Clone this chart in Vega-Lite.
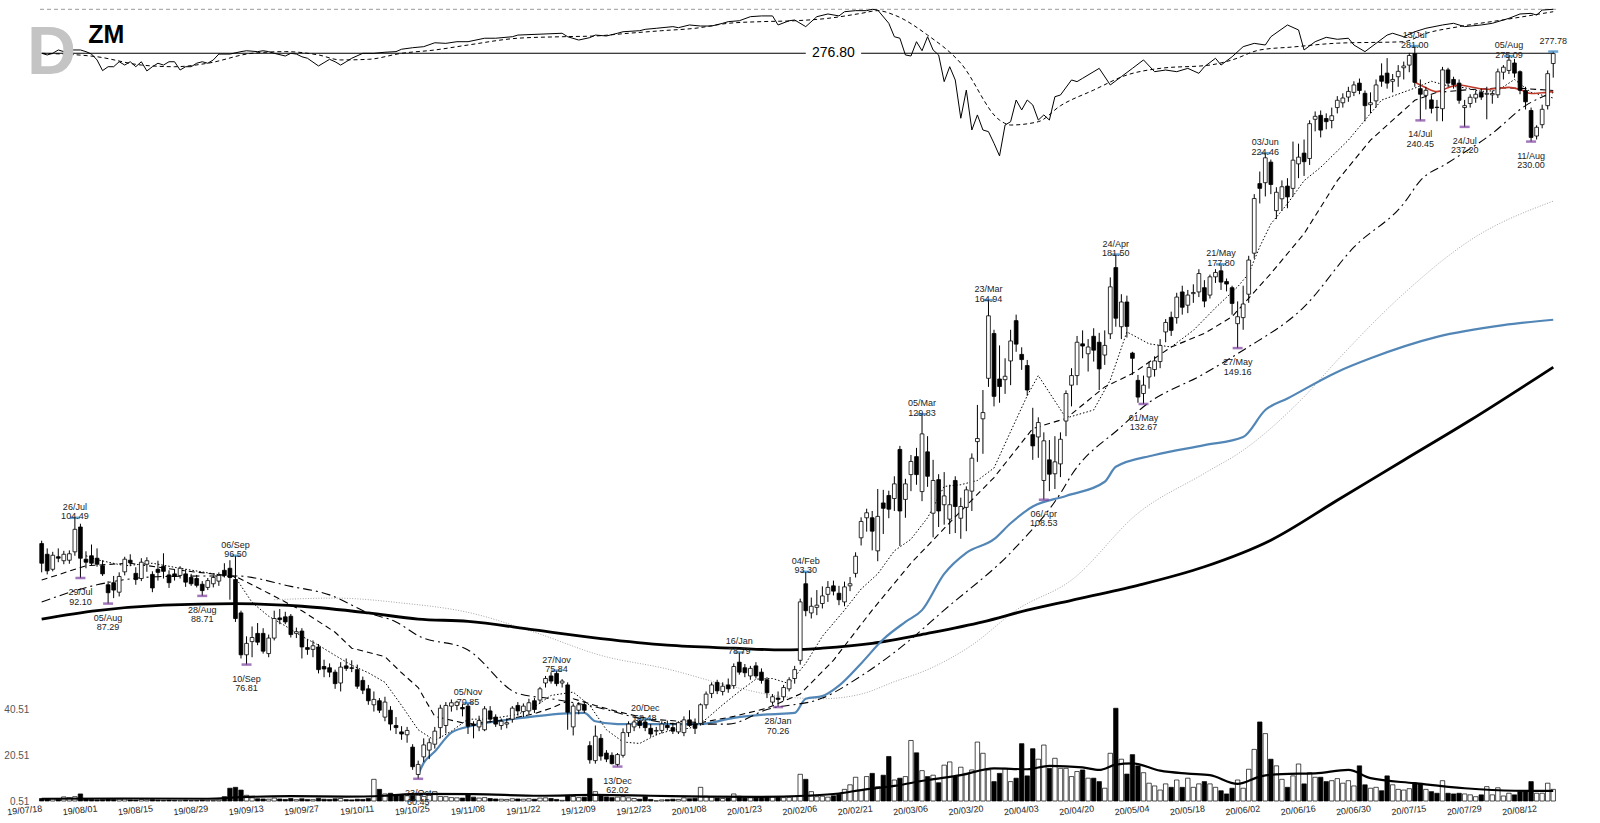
{
  "$schema": "https://vega.github.io/schema/vega-lite/v6.json",
  "width": 1517.1,
  "height": 801,
  "autosize": {"type": "none"},
  "padding": {"left": 38.9, "top": 0, "right": 44, "bottom": 22},
  "background": "white",
  "config": {
    "view": {"stroke": null},
    "font": "Liberation Sans",
    "axisX": {
      "labelExpr": "indexof(['19/07/18','19/08/01','19/08/15','19/08/29','19/09/13','19/09/27','19/10/11','19/10/25','19/11/08','19/11/22','19/12/09','19/12/23','20/01/08','20/01/23','20/02/06','20/02/21','20/03/06','20/03/20','20/04/03','20/04/20','20/05/04','20/05/18','20/06/02','20/06/16','20/06/30','20/07/15','20/07/29','20/08/12'], datum.value) >= 0 ? datum.value : ''",
      "ticks": false, "domain": false, "grid": false,
      "labelAngle": -6, "labelAlign": "right", "labelBaseline": "top",
      "labelFontSize": 9, "labelColor": "#222222", "labelPadding": 3, "labelOverlap": false,
      "titleOpacity": 0
    }
  },
  "datasets": {
    "px": [
      {"d":"19/07/18","o":99.0,"h":99.6,"l":93.2,"c":95.0,"v":1.6},
      {"d":"19/07/19","o":96.8,"h":98.0,"l":92.8,"c":93.5,"v":1.4},
      {"d":"19/07/22","o":93.8,"h":97.3,"l":93.4,"c":96.6,"v":1.5},
      {"d":"19/07/23","o":96.3,"h":98.0,"l":95.2,"c":96.0,"v":1.2},
      {"d":"19/07/24","o":95.5,"h":97.5,"l":94.8,"c":96.8,"v":2.3},
      {"d":"19/07/25","o":95.6,"h":97.6,"l":94.9,"c":96.9,"v":2.0},
      {"d":"19/07/26","o":97.3,"h":104.49,"l":96.5,"c":102.0,"v":2.4},
      {"d":"19/07/29","o":102.5,"h":103.2,"l":92.1,"c":96.0,"v":3.6},
      {"d":"19/07/30","o":95.8,"h":97.4,"l":94.0,"c":95.2,"v":1.4},
      {"d":"19/07/31","o":96.5,"h":98.8,"l":94.6,"c":95.0,"v":1.2},
      {"d":"19/08/01","o":96.0,"h":98.0,"l":94.3,"c":94.8,"v":1.0},
      {"d":"19/08/02","o":94.5,"h":95.6,"l":92.5,"c":92.9,"v":1.1},
      {"d":"19/08/05","o":90.8,"h":91.5,"l":87.29,"c":89.3,"v":1.6},
      {"d":"19/08/06","o":91.2,"h":92.5,"l":88.3,"c":89.8,"v":1.2},
      {"d":"19/08/07","o":89.4,"h":93.2,"l":88.6,"c":92.4,"v":1.3},
      {"d":"19/08/08","o":93.3,"h":96.3,"l":92.6,"c":95.8,"v":1.4},
      {"d":"19/08/09","o":95.6,"h":96.8,"l":94.4,"c":95.1,"v":1.0},
      {"d":"19/08/12","o":93.0,"h":94.2,"l":90.8,"c":91.8,"v":0.9},
      {"d":"19/08/13","o":92.0,"h":96.0,"l":91.5,"c":95.2,"v":1.2},
      {"d":"19/08/14","o":94.8,"h":96.2,"l":93.3,"c":95.5,"v":1.0},
      {"d":"19/08/15","o":92.8,"h":93.4,"l":89.4,"c":90.2,"v":1.1},
      {"d":"19/08/16","o":93.8,"h":95.5,"l":91.6,"c":93.2,"v":0.9},
      {"d":"19/08/19","o":94.4,"h":97.0,"l":92.0,"c":93.4,"v":0.8},
      {"d":"19/08/20","o":92.7,"h":93.6,"l":90.2,"c":91.2,"v":0.9},
      {"d":"19/08/21","o":92.9,"h":93.8,"l":91.6,"c":92.4,"v":0.8},
      {"d":"19/08/22","o":92.6,"h":94.4,"l":92.0,"c":94.0,"v":0.8},
      {"d":"19/08/23","o":92.9,"h":93.8,"l":90.4,"c":91.3,"v":0.9},
      {"d":"19/08/26","o":92.2,"h":92.9,"l":90.6,"c":91.0,"v":0.7},
      {"d":"19/08/27","o":92.0,"h":92.7,"l":90.3,"c":90.7,"v":0.7},
      {"d":"19/08/28","o":90.9,"h":91.5,"l":88.71,"c":89.7,"v":0.9},
      {"d":"19/08/29","o":90.3,"h":92.1,"l":89.8,"c":91.6,"v":0.8},
      {"d":"19/08/30","o":91.0,"h":92.6,"l":90.3,"c":92.2,"v":0.7},
      {"d":"19/09/03","o":91.5,"h":93.2,"l":90.6,"c":92.6,"v":0.9},
      {"d":"19/09/04","o":93.6,"h":95.0,"l":92.2,"c":92.6,"v":2.4},
      {"d":"19/09/05","o":94.0,"h":95.6,"l":88.0,"c":92.2,"v":6.1},
      {"d":"19/09/06","o":91.8,"h":96.5,"l":84.0,"c":84.6,"v":6.5},
      {"d":"19/09/09","o":85.6,"h":86.0,"l":77.8,"c":78.4,"v":5.3},
      {"d":"19/09/10","o":78.4,"h":81.5,"l":76.81,"c":80.3,"v":3.0},
      {"d":"19/09/11","o":80.6,"h":83.2,"l":78.0,"c":81.3,"v":1.9},
      {"d":"19/09/12","o":82.0,"h":83.8,"l":80.0,"c":80.5,"v":1.5},
      {"d":"19/09/13","o":82.0,"h":82.9,"l":78.6,"c":79.0,"v":1.4},
      {"d":"19/09/16","o":78.6,"h":81.8,"l":78.0,"c":81.2,"v":1.3},
      {"d":"19/09/17","o":81.2,"h":86.0,"l":80.8,"c":84.6,"v":1.8},
      {"d":"19/09/18","o":84.7,"h":86.3,"l":83.6,"c":84.4,"v":1.4},
      {"d":"19/09/19","o":84.9,"h":85.8,"l":83.6,"c":84.0,"v":1.2},
      {"d":"19/09/20","o":85.0,"h":85.4,"l":81.3,"c":81.8,"v":1.6},
      {"d":"19/09/23","o":82.0,"h":83.0,"l":81.2,"c":82.3,"v":1.1},
      {"d":"19/09/24","o":82.4,"h":82.9,"l":77.8,"c":79.7,"v":1.5},
      {"d":"19/09/25","o":79.6,"h":81.0,"l":78.4,"c":79.3,"v":1.2},
      {"d":"19/09/26","o":79.3,"h":80.8,"l":78.0,"c":79.9,"v":1.1},
      {"d":"19/09/27","o":79.7,"h":80.2,"l":75.4,"c":76.0,"v":1.7},
      {"d":"19/09/30","o":76.5,"h":77.6,"l":74.8,"c":76.1,"v":1.3},
      {"d":"19/10/01","o":76.3,"h":77.0,"l":74.8,"c":75.6,"v":1.2},
      {"d":"19/10/02","o":75.6,"h":76.0,"l":73.0,"c":73.8,"v":1.5},
      {"d":"19/10/03","o":73.9,"h":77.2,"l":72.6,"c":76.4,"v":1.6},
      {"d":"19/10/04","o":76.6,"h":77.8,"l":75.8,"c":76.2,"v":1.1},
      {"d":"19/10/07","o":76.3,"h":77.5,"l":75.6,"c":76.2,"v":1.0},
      {"d":"19/10/08","o":76.0,"h":76.8,"l":73.0,"c":73.4,"v":1.3},
      {"d":"19/10/09","o":74.3,"h":74.9,"l":72.2,"c":72.8,"v":1.2},
      {"d":"19/10/10","o":73.0,"h":73.6,"l":70.6,"c":71.2,"v":1.6},
      {"d":"19/10/11","o":70.6,"h":72.6,"l":69.6,"c":71.4,"v":10.0},
      {"d":"19/10/14","o":71.2,"h":71.6,"l":69.4,"c":69.8,"v":5.6},
      {"d":"19/10/15","o":68.8,"h":71.8,"l":68.2,"c":71.0,"v":3.6},
      {"d":"19/10/16","o":69.8,"h":70.4,"l":66.9,"c":67.8,"v":3.9},
      {"d":"19/10/17","o":67.6,"h":68.8,"l":66.4,"c":67.3,"v":3.2},
      {"d":"19/10/18","o":66.7,"h":67.5,"l":65.6,"c":66.4,"v":3.2},
      {"d":"19/10/21","o":66.3,"h":67.4,"l":65.2,"c":66.9,"v":2.8},
      {"d":"19/10/22","o":64.6,"h":65.0,"l":61.6,"c":62.0,"v":3.5},
      {"d":"19/10/23","o":61.0,"h":62.8,"l":60.45,"c":62.3,"v":3.0},
      {"d":"19/10/24","o":63.3,"h":65.8,"l":62.6,"c":64.9,"v":2.5},
      {"d":"19/10/25","o":64.2,"h":65.8,"l":63.0,"c":65.2,"v":3.0},
      {"d":"19/10/28","o":65.0,"h":67.4,"l":64.4,"c":66.8,"v":4.6},
      {"d":"19/10/29","o":67.3,"h":70.6,"l":65.8,"c":70.1,"v":2.5},
      {"d":"19/10/30","o":67.6,"h":71.0,"l":66.5,"c":70.5,"v":2.4},
      {"d":"19/10/31","o":70.4,"h":71.4,"l":69.6,"c":70.9,"v":2.0},
      {"d":"19/11/01","o":70.5,"h":71.2,"l":69.8,"c":71.0,"v":1.9},
      {"d":"19/11/04","o":70.2,"h":70.7,"l":68.9,"c":70.0,"v":1.8},
      {"d":"19/11/05","o":70.4,"h":70.85,"l":66.4,"c":67.5,"v":3.2},
      {"d":"19/11/06","o":67.8,"h":68.2,"l":65.8,"c":67.6,"v":2.2},
      {"d":"19/11/07","o":67.4,"h":69.0,"l":66.8,"c":68.3,"v":1.8},
      {"d":"19/11/08","o":67.0,"h":70.4,"l":66.8,"c":70.0,"v":2.0},
      {"d":"19/11/11","o":69.7,"h":70.4,"l":68.0,"c":68.5,"v":1.6},
      {"d":"19/11/12","o":68.8,"h":69.2,"l":67.4,"c":67.8,"v":1.4},
      {"d":"19/11/13","o":67.6,"h":68.6,"l":67.0,"c":68.2,"v":1.3},
      {"d":"19/11/14","o":67.8,"h":68.6,"l":67.2,"c":68.0,"v":1.2},
      {"d":"19/11/15","o":68.5,"h":70.4,"l":68.0,"c":70.1,"v":1.5},
      {"d":"19/11/18","o":70.5,"h":71.0,"l":69.0,"c":69.7,"v":1.4},
      {"d":"19/11/19","o":69.6,"h":70.8,"l":68.8,"c":70.4,"v":1.3},
      {"d":"19/11/20","o":69.7,"h":71.5,"l":69.2,"c":70.9,"v":1.5},
      {"d":"19/11/21","o":71.2,"h":71.6,"l":69.4,"c":69.9,"v":1.3},
      {"d":"19/11/22","o":71.3,"h":73.3,"l":70.8,"c":73.0,"v":1.8},
      {"d":"19/11/25","o":73.9,"h":75.0,"l":73.2,"c":74.6,"v":1.9},
      {"d":"19/11/26","o":75.0,"h":75.6,"l":73.8,"c":74.2,"v":1.6},
      {"d":"19/11/27","o":75.4,"h":75.84,"l":73.4,"c":73.8,"v":1.2},
      {"d":"19/11/29","o":73.9,"h":74.5,"l":73.2,"c":74.2,"v":0.8},
      {"d":"19/12/02","o":73.6,"h":74.0,"l":67.0,"c":69.5,"v":2.8},
      {"d":"19/12/03","o":67.4,"h":70.8,"l":66.2,"c":70.4,"v":2.5},
      {"d":"19/12/04","o":69.8,"h":71.0,"l":69.2,"c":70.6,"v":2.0},
      {"d":"19/12/05","o":70.6,"h":71.2,"l":69.4,"c":69.8,"v":2.2},
      {"d":"19/12/06","o":64.8,"h":65.4,"l":62.4,"c":62.9,"v":10.4},
      {"d":"19/12/09","o":62.8,"h":67.6,"l":62.4,"c":66.1,"v":4.6},
      {"d":"19/12/10","o":65.8,"h":66.4,"l":62.8,"c":63.4,"v":3.2},
      {"d":"19/12/11","o":63.8,"h":64.2,"l":62.6,"c":63.0,"v":2.3},
      {"d":"19/12/12","o":63.5,"h":63.9,"l":62.3,"c":62.4,"v":2.0},
      {"d":"19/12/13","o":62.3,"h":63.8,"l":62.02,"c":63.6,"v":2.2},
      {"d":"19/12/16","o":63.5,"h":67.2,"l":63.2,"c":66.6,"v":2.4},
      {"d":"19/12/17","o":66.6,"h":68.2,"l":66.0,"c":67.8,"v":1.9},
      {"d":"19/12/18","o":67.4,"h":68.4,"l":66.8,"c":68.1,"v":1.6},
      {"d":"19/12/19","o":68.2,"h":68.4,"l":67.2,"c":67.6,"v":1.3},
      {"d":"19/12/20","o":68.1,"h":68.48,"l":66.8,"c":67.3,"v":2.4},
      {"d":"19/12/23","o":67.2,"h":67.8,"l":66.0,"c":66.4,"v":1.2},
      {"d":"19/12/24","o":66.8,"h":67.4,"l":66.2,"c":66.9,"v":0.6},
      {"d":"19/12/26","o":66.9,"h":68.2,"l":66.5,"c":67.8,"v":1.0},
      {"d":"19/12/27","o":67.6,"h":68.3,"l":66.9,"c":67.3,"v":1.1},
      {"d":"19/12/30","o":67.3,"h":68.0,"l":66.4,"c":66.8,"v":1.3},
      {"d":"19/12/31","o":66.7,"h":68.2,"l":66.4,"c":68.0,"v":1.2},
      {"d":"20/01/02","o":66.6,"h":68.9,"l":66.1,"c":68.4,"v":1.9},
      {"d":"20/01/03","o":68.4,"h":69.8,"l":67.4,"c":67.6,"v":1.5},
      {"d":"20/01/06","o":67.8,"h":68.6,"l":66.4,"c":67.2,"v":1.7},
      {"d":"20/01/07","o":67.9,"h":70.8,"l":67.6,"c":70.6,"v":6.5},
      {"d":"20/01/08","o":70.6,"h":72.6,"l":70.0,"c":72.2,"v":2.6},
      {"d":"20/01/09","o":72.3,"h":74.0,"l":71.6,"c":73.6,"v":2.4},
      {"d":"20/01/10","o":74.0,"h":74.4,"l":72.2,"c":72.7,"v":1.8},
      {"d":"20/01/13","o":72.6,"h":74.0,"l":72.0,"c":73.4,"v":1.6},
      {"d":"20/01/14","o":73.6,"h":74.6,"l":72.4,"c":73.0,"v":1.8},
      {"d":"20/01/15","o":73.5,"h":77.0,"l":73.0,"c":76.5,"v":3.6},
      {"d":"20/01/16","o":77.2,"h":78.79,"l":75.2,"c":75.6,"v":2.6},
      {"d":"20/01/17","o":76.3,"h":76.9,"l":74.8,"c":75.5,"v":1.8},
      {"d":"20/01/21","o":75.0,"h":76.6,"l":74.4,"c":76.2,"v":1.9},
      {"d":"20/01/22","o":76.6,"h":77.2,"l":74.6,"c":75.0,"v":1.8},
      {"d":"20/01/23","o":75.6,"h":76.2,"l":73.8,"c":74.3,"v":2.4},
      {"d":"20/01/24","o":74.4,"h":74.8,"l":71.6,"c":72.4,"v":2.5},
      {"d":"20/01/27","o":71.0,"h":72.2,"l":70.6,"c":71.8,"v":2.3},
      {"d":"20/01/28","o":71.6,"h":72.6,"l":70.26,"c":71.4,"v":2.2},
      {"d":"20/01/29","o":71.8,"h":73.6,"l":71.2,"c":73.2,"v":2.0},
      {"d":"20/01/30","o":73.0,"h":74.8,"l":72.6,"c":74.4,"v":2.1},
      {"d":"20/01/31","o":74.6,"h":76.6,"l":73.8,"c":76.0,"v":2.4},
      {"d":"20/02/03","o":77.5,"h":88.2,"l":76.8,"c":87.6,"v":12.2},
      {"d":"20/02/04","o":91.0,"h":93.3,"l":85.0,"c":86.0,"v":10.0},
      {"d":"20/02/05","o":85.6,"h":88.4,"l":84.6,"c":86.8,"v":4.6},
      {"d":"20/02/06","o":86.6,"h":89.8,"l":85.2,"c":87.0,"v":2.4},
      {"d":"20/02/07","o":87.3,"h":90.5,"l":86.4,"c":88.7,"v":2.6},
      {"d":"20/02/10","o":89.0,"h":91.5,"l":87.6,"c":90.3,"v":2.2},
      {"d":"20/02/11","o":90.6,"h":91.6,"l":88.8,"c":89.6,"v":2.8},
      {"d":"20/02/12","o":89.2,"h":90.6,"l":87.0,"c":88.0,"v":3.5},
      {"d":"20/02/13","o":87.6,"h":91.4,"l":86.8,"c":90.4,"v":5.6},
      {"d":"20/02/14","o":90.6,"h":92.3,"l":89.6,"c":91.0,"v":7.6},
      {"d":"20/02/18","o":93.0,"h":97.2,"l":92.2,"c":96.4,"v":10.9},
      {"d":"20/02/19","o":100.2,"h":104.6,"l":98.6,"c":103.7,"v":5.3},
      {"d":"20/02/20","o":104.5,"h":106.5,"l":101.5,"c":105.6,"v":11.2},
      {"d":"20/02/21","o":104.5,"h":106.0,"l":97.6,"c":101.6,"v":12.6},
      {"d":"20/02/24","o":97.5,"h":111.0,"l":95.4,"c":104.8,"v":6.8},
      {"d":"20/02/25","o":107.8,"h":110.8,"l":101.0,"c":106.6,"v":11.8},
      {"d":"20/02/26","o":109.5,"h":110.6,"l":104.4,"c":106.4,"v":20.0},
      {"d":"20/02/27","o":108.8,"h":114.0,"l":106.0,"c":112.2,"v":9.7},
      {"d":"20/02/28","o":120.6,"h":121.5,"l":98.5,"c":106.0,"v":10.5},
      {"d":"20/03/02","o":108.6,"h":113.4,"l":104.5,"c":112.2,"v":11.2},
      {"d":"20/03/03","o":114.4,"h":119.2,"l":110.5,"c":117.6,"v":27.0},
      {"d":"20/03/04","o":118.8,"h":121.0,"l":112.0,"c":114.4,"v":21.6},
      {"d":"20/03/05","o":110.4,"h":129.83,"l":108.2,"c":124.6,"v":13.8},
      {"d":"20/03/06","o":120.0,"h":124.0,"l":111.5,"c":114.0,"v":11.2},
      {"d":"20/03/09","o":105.5,"h":118.0,"l":100.3,"c":113.0,"v":11.8},
      {"d":"20/03/10","o":113.2,"h":114.5,"l":102.5,"c":106.0,"v":8.5},
      {"d":"20/03/11","o":107.4,"h":115.0,"l":103.0,"c":109.4,"v":16.2},
      {"d":"20/03/12","o":104.2,"h":112.0,"l":101.0,"c":107.4,"v":17.6},
      {"d":"20/03/13","o":113.0,"h":114.0,"l":101.2,"c":107.0,"v":11.2},
      {"d":"20/03/16","o":104.4,"h":109.0,"l":100.0,"c":107.0,"v":15.3},
      {"d":"20/03/17","o":106.8,"h":111.6,"l":101.6,"c":110.8,"v":12.6},
      {"d":"20/03/18","o":110.5,"h":119.6,"l":106.0,"c":118.4,"v":14.1},
      {"d":"20/03/19","o":122.6,"h":132.4,"l":117.5,"c":123.4,"v":26.3},
      {"d":"20/03/20","o":128.6,"h":136.6,"l":119.5,"c":130.3,"v":21.4},
      {"d":"20/03/23","o":140.0,"h":164.94,"l":137.5,"c":159.6,"v":14.1},
      {"d":"20/03/24","o":153.8,"h":155.0,"l":132.0,"c":134.8,"v":9.0},
      {"d":"20/03/25","o":139.8,"h":150.0,"l":133.0,"c":137.6,"v":12.6},
      {"d":"20/03/26","o":139.6,"h":146.0,"l":135.5,"c":140.6,"v":14.8},
      {"d":"20/03/27","o":145.2,"h":155.0,"l":138.0,"c":151.4,"v":9.0},
      {"d":"20/03/30","o":158.0,"h":160.0,"l":148.0,"c":150.4,"v":10.5},
      {"d":"20/03/31","o":147.2,"h":149.4,"l":142.5,"c":145.6,"v":25.6},
      {"d":"20/04/01","o":143.8,"h":145.5,"l":135.0,"c":136.6,"v":11.5},
      {"d":"20/04/02","o":124.4,"h":131.6,"l":118.0,"c":121.5,"v":23.4},
      {"d":"20/04/03","o":123.8,"h":129.0,"l":118.5,"c":127.6,"v":18.8},
      {"d":"20/04/06","o":113.0,"h":125.0,"l":108.53,"c":122.8,"v":25.0},
      {"d":"20/04/07","o":118.0,"h":123.0,"l":110.5,"c":114.5,"v":14.8},
      {"d":"20/04/08","o":114.6,"h":124.0,"l":111.0,"c":117.5,"v":19.2},
      {"d":"20/04/09","o":117.0,"h":125.0,"l":113.8,"c":123.2,"v":14.8},
      {"d":"20/04/13","o":128.0,"h":136.5,"l":124.0,"c":135.6,"v":14.8},
      {"d":"20/04/14","o":138.0,"h":143.0,"l":132.0,"c":140.8,"v":11.2},
      {"d":"20/04/15","o":140.8,"h":153.0,"l":138.0,"c":151.0,"v":13.4},
      {"d":"20/04/16","o":150.5,"h":154.8,"l":146.0,"c":149.8,"v":14.1},
      {"d":"20/04/17","o":147.4,"h":152.0,"l":142.0,"c":149.5,"v":10.5},
      {"d":"20/04/20","o":152.9,"h":155.5,"l":145.0,"c":148.5,"v":10.5},
      {"d":"20/04/21","o":151.0,"h":154.0,"l":136.6,"c":142.8,"v":9.0},
      {"d":"20/04/22","o":147.0,"h":154.8,"l":144.0,"c":150.0,"v":6.1},
      {"d":"20/04/23","o":153.7,"h":173.0,"l":152.0,"c":169.6,"v":21.4},
      {"d":"20/04/24","o":176.6,"h":181.5,"l":156.0,"c":158.8,"v":41.1},
      {"d":"20/04/27","o":156.0,"h":167.0,"l":152.0,"c":164.3,"v":18.8},
      {"d":"20/04/28","o":164.3,"h":166.5,"l":152.5,"c":156.1,"v":12.3},
      {"d":"20/04/29","o":147.6,"h":148.0,"l":141.0,"c":146.0,"v":20.8},
      {"d":"20/04/30","o":139.4,"h":141.0,"l":133.0,"c":134.6,"v":15.9},
      {"d":"20/05/01","o":135.6,"h":140.8,"l":132.67,"c":138.0,"v":12.9},
      {"d":"20/05/04","o":140.4,"h":145.0,"l":137.0,"c":143.2,"v":8.3},
      {"d":"20/05/05","o":142.6,"h":146.6,"l":140.5,"c":145.2,"v":7.1},
      {"d":"20/05/06","o":145.0,"h":152.0,"l":143.0,"c":150.0,"v":5.3},
      {"d":"20/05/07","o":154.3,"h":158.5,"l":151.0,"c":157.4,"v":8.0},
      {"d":"20/05/08","o":159.1,"h":161.0,"l":153.0,"c":154.8,"v":6.5},
      {"d":"20/05/11","o":159.0,"h":167.5,"l":157.0,"c":166.0,"v":9.7},
      {"d":"20/05/12","o":167.8,"h":170.0,"l":160.0,"c":162.5,"v":6.5},
      {"d":"20/05/13","o":163.2,"h":168.5,"l":160.5,"c":166.7,"v":10.5},
      {"d":"20/05/14","o":167.2,"h":170.5,"l":164.0,"c":167.6,"v":6.5},
      {"d":"20/05/15","o":167.8,"h":176.0,"l":166.0,"c":174.4,"v":8.0},
      {"d":"20/05/18","o":169.3,"h":172.0,"l":162.5,"c":164.6,"v":9.0},
      {"d":"20/05/19","o":166.7,"h":174.0,"l":165.5,"c":173.2,"v":8.0},
      {"d":"20/05/20","o":173.2,"h":176.0,"l":171.0,"c":174.8,"v":6.5},
      {"d":"20/05/21","o":175.4,"h":177.8,"l":168.5,"c":171.3,"v":5.0},
      {"d":"20/05/22","o":171.5,"h":172.6,"l":168.0,"c":170.6,"v":3.6},
      {"d":"20/05/26","o":169.3,"h":170.0,"l":160.0,"c":163.8,"v":6.1},
      {"d":"20/05/27","o":157.0,"h":164.5,"l":149.16,"c":159.3,"v":9.7},
      {"d":"20/05/28","o":159.0,"h":170.0,"l":155.0,"c":163.6,"v":6.1},
      {"d":"20/05/29","o":167.0,"h":181.0,"l":164.0,"c":179.4,"v":14.4},
      {"d":"20/06/01","o":182.0,"h":206.0,"l":180.0,"c":204.1,"v":23.1},
      {"d":"20/06/02","o":210.6,"h":216.0,"l":202.0,"c":208.5,"v":35.1},
      {"d":"20/06/03","o":211.0,"h":224.46,"l":205.0,"c":222.3,"v":30.0},
      {"d":"20/06/04","o":220.3,"h":221.5,"l":206.0,"c":210.2,"v":18.8},
      {"d":"20/06/05","o":199.0,"h":209.0,"l":195.5,"c":206.8,"v":15.9},
      {"d":"20/06/08","o":204.0,"h":212.0,"l":199.0,"c":209.2,"v":10.0},
      {"d":"20/06/09","o":209.5,"h":213.0,"l":200.0,"c":204.8,"v":6.5},
      {"d":"20/06/10","o":208.5,"h":230.0,"l":205.0,"c":221.2,"v":11.5},
      {"d":"20/06/11","o":219.5,"h":229.0,"l":213.0,"c":222.6,"v":16.7},
      {"d":"20/06/12","o":224.5,"h":231.0,"l":214.0,"c":220.5,"v":8.0},
      {"d":"20/06/15","o":222.0,"h":240.5,"l":219.0,"c":238.8,"v":12.9},
      {"d":"20/06/16","o":241.0,"h":245.0,"l":235.0,"c":242.5,"v":10.9},
      {"d":"20/06/17","o":243.0,"h":245.5,"l":232.0,"c":235.6,"v":10.9},
      {"d":"20/06/18","o":241.4,"h":244.0,"l":236.0,"c":239.8,"v":9.0},
      {"d":"20/06/19","o":240.4,"h":247.0,"l":236.5,"c":242.8,"v":9.4},
      {"d":"20/06/22","o":247.0,"h":253.0,"l":244.0,"c":250.8,"v":10.3},
      {"d":"20/06/23","o":249.5,"h":254.5,"l":247.0,"c":252.0,"v":8.3},
      {"d":"20/06/24","o":252.5,"h":258.0,"l":250.0,"c":255.5,"v":9.4},
      {"d":"20/06/25","o":255.0,"h":261.0,"l":253.0,"c":259.0,"v":7.1},
      {"d":"20/06/26","o":260.0,"h":262.5,"l":254.0,"c":256.0,"v":15.9},
      {"d":"20/06/29","o":254.5,"h":256.0,"l":240.0,"c":248.0,"v":7.6},
      {"d":"20/06/30","o":248.5,"h":255.0,"l":244.0,"c":249.5,"v":6.1},
      {"d":"20/07/01","o":250.5,"h":262.0,"l":247.0,"c":259.0,"v":6.5},
      {"d":"20/07/02","o":264.0,"h":271.0,"l":258.0,"c":261.0,"v":5.0},
      {"d":"20/07/06","o":265.5,"h":274.0,"l":257.0,"c":260.0,"v":11.5},
      {"d":"20/07/07","o":261.0,"h":265.0,"l":255.0,"c":262.0,"v":7.6},
      {"d":"20/07/08","o":263.5,"h":270.0,"l":258.0,"c":266.5,"v":5.6},
      {"d":"20/07/09","o":268.5,"h":272.0,"l":262.0,"c":269.5,"v":5.3},
      {"d":"20/07/10","o":270.0,"h":277.0,"l":266.0,"c":275.5,"v":5.9},
      {"d":"20/07/13","o":276.6,"h":281.0,"l":258.0,"c":260.4,"v":8.3},
      {"d":"20/07/14","o":257.0,"h":262.0,"l":240.45,"c":254.0,"v":8.0},
      {"d":"20/07/15","o":253.4,"h":258.0,"l":246.0,"c":256.1,"v":5.6},
      {"d":"20/07/16","o":251.0,"h":253.5,"l":244.0,"c":246.6,"v":4.6},
      {"d":"20/07/17","o":247.2,"h":251.0,"l":240.0,"c":247.0,"v":3.9},
      {"d":"20/07/20","o":246.4,"h":269.0,"l":240.0,"c":267.3,"v":9.4},
      {"d":"20/07/21","o":267.3,"h":268.5,"l":258.0,"c":260.0,"v":3.9},
      {"d":"20/07/22","o":262.0,"h":263.5,"l":257.0,"c":259.2,"v":3.6},
      {"d":"20/07/23","o":260.0,"h":262.0,"l":249.0,"c":250.8,"v":3.9},
      {"d":"20/07/24","o":247.0,"h":251.0,"l":237.2,"c":248.0,"v":3.6},
      {"d":"20/07/27","o":249.1,"h":254.0,"l":247.0,"c":252.4,"v":3.2},
      {"d":"20/07/28","o":252.0,"h":256.0,"l":249.5,"c":254.0,"v":2.4},
      {"d":"20/07/29","o":255.0,"h":257.0,"l":251.0,"c":252.5,"v":3.2},
      {"d":"20/07/30","o":254.0,"h":258.0,"l":241.0,"c":254.5,"v":6.8},
      {"d":"20/07/31","o":253.7,"h":256.0,"l":249.0,"c":254.4,"v":3.2},
      {"d":"20/08/03","o":253.7,"h":268.0,"l":252.0,"c":266.2,"v":6.3},
      {"d":"20/08/04","o":266.0,"h":270.0,"l":262.0,"c":268.8,"v":2.7},
      {"d":"20/08/05","o":267.0,"h":275.09,"l":265.0,"c":272.8,"v":3.9},
      {"d":"20/08/06","o":271.2,"h":273.5,"l":263.0,"c":265.5,"v":3.2},
      {"d":"20/08/07","o":266.3,"h":267.0,"l":254.0,"c":256.1,"v":4.6},
      {"d":"20/08/10","o":256.0,"h":258.0,"l":246.0,"c":250.0,"v":4.5},
      {"d":"20/08/11","o":245.5,"h":247.0,"l":230.0,"c":232.0,"v":9.0},
      {"d":"20/08/12","o":232.7,"h":238.0,"l":231.0,"c":237.0,"v":3.9},
      {"d":"20/08/13","o":238.3,"h":248.5,"l":236.5,"c":246.1,"v":3.9},
      {"d":"20/08/14","o":248.0,"h":267.0,"l":246.0,"c":265.2,"v":8.3},
      {"d":"20/08/17","o":270.9,"h":277.78,"l":263.0,"c":276.6,"v":5.6}
    ],
    "ma": [
      {"d":"19/07/30","s":"fast","p":96.5},{"d":"19/08/01","s":"fast","p":95.7},{"d":"19/08/08","s":"fast","p":94.5},
      {"d":"19/08/15","s":"fast","p":95.0},{"d":"19/08/22","s":"fast","p":94.0},{"d":"19/08/29","s":"fast","p":93.1},
      {"d":"19/09/06","s":"fast","p":92.2},{"d":"19/09/11","s":"fast","p":87.5},{"d":"19/09/16","s":"fast","p":85.0},
      {"d":"19/09/19","s":"fast","p":83.3},{"d":"19/09/24","s":"fast","p":81.5},{"d":"19/09/27","s":"fast","p":80.0},
      {"d":"19/10/02","s":"fast","p":78.3},{"d":"19/10/07","s":"fast","p":76.7},{"d":"19/10/10","s":"fast","p":75.5},
      {"d":"19/10/15","s":"fast","p":74.0},{"d":"19/10/18","s":"fast","p":70.5},{"d":"19/10/23","s":"fast","p":67.0},
      {"d":"19/10/28","s":"fast","p":65.5},{"d":"19/10/31","s":"fast","p":66.8},{"d":"19/11/05","s":"fast","p":68.5},
      {"d":"19/11/08","s":"fast","p":68.5},{"d":"19/11/13","s":"fast","p":68.8},{"d":"19/11/18","s":"fast","p":69.2},
      {"d":"19/11/21","s":"fast","p":70.3},{"d":"19/11/26","s":"fast","p":72.0},{"d":"19/12/03","s":"fast","p":72.5},
      {"d":"19/12/06","s":"fast","p":70.5},{"d":"19/12/11","s":"fast","p":67.0},{"d":"19/12/16","s":"fast","p":65.3},
      {"d":"19/12/19","s":"fast","p":65.1},{"d":"19/12/24","s":"fast","p":66.3},{"d":"19/12/30","s":"fast","p":67.0},
      {"d":"20/01/03","s":"fast","p":67.2},{"d":"20/01/08","s":"fast","p":68.5},{"d":"20/01/13","s":"fast","p":70.6},
      {"d":"20/01/16","s":"fast","p":72.6},{"d":"20/01/22","s":"fast","p":74.5},{"d":"20/01/27","s":"fast","p":74.6},
      {"d":"20/01/30","s":"fast","p":73.8},{"d":"20/02/04","s":"fast","p":77.0},{"d":"20/02/07","s":"fast","p":81.5},
      {"d":"20/02/13","s":"fast","p":86.1},{"d":"20/02/19","s":"fast","p":90.0},{"d":"20/02/24","s":"fast","p":92.9},
      {"d":"20/02/27","s":"fast","p":97.5},{"d":"20/03/03","s":"fast","p":99.9},{"d":"20/03/06","s":"fast","p":104.5},
      {"d":"20/03/11","s":"fast","p":111.6},{"d":"20/03/16","s":"fast","p":112.0},{"d":"20/03/19","s":"fast","p":113.0},
      {"d":"20/03/24","s":"fast","p":116.0},{"d":"20/03/27","s":"fast","p":125.2},{"d":"20/04/01","s":"fast","p":135.0},
      {"d":"20/04/03","s":"fast","p":140.8},{"d":"20/04/13","s":"fast","p":128.8},{"d":"20/04/20","s":"fast","p":131.0},
      {"d":"20/04/23","s":"fast","p":139.5},{"d":"20/04/28","s":"fast","p":154.3},{"d":"20/05/04","s":"fast","p":150.5},
      {"d":"20/05/08","s":"fast","p":149.5},{"d":"20/05/14","s":"fast","p":154.8},{"d":"20/05/20","s":"fast","p":162.3},
      {"d":"20/05/27","s":"fast","p":169.6},{"d":"20/05/29","s":"fast","p":174.4},{"d":"20/06/02","s":"fast","p":184.5},
      {"d":"20/06/04","s":"fast","p":193.5},{"d":"20/06/09","s":"fast","p":201.9},{"d":"20/06/12","s":"fast","p":211.9},
      {"d":"20/06/17","s":"fast","p":217.9},{"d":"20/06/24","s":"fast","p":230.7},{"d":"20/07/02","s":"fast","p":250.9},
      {"d":"20/07/13","s":"fast","p":257.3},{"d":"20/07/16","s":"fast","p":261.0},{"d":"20/07/21","s":"fast","p":258.5},
      {"d":"20/07/24","s":"fast","p":257.5},{"d":"20/07/29","s":"fast","p":255.5},{"d":"20/08/03","s":"fast","p":256.0},
      {"d":"20/08/06","s":"fast","p":262.0},{"d":"20/08/11","s":"fast","p":255.0},{"d":"20/08/17","s":"fast","p":252.0},

      {"d":"19/07/18","s":"mid","p":91.7},{"d":"19/07/30","s":"mid","p":94.5},{"d":"19/08/09","s":"mid","p":95.0},
      {"d":"19/08/22","s":"mid","p":93.6},{"d":"19/09/06","s":"mid","p":92.4},{"d":"19/09/16","s":"mid","p":89.2},
      {"d":"19/09/24","s":"mid","p":86.0},{"d":"19/10/02","s":"mid","p":82.2},{"d":"19/10/07","s":"mid","p":79.5},
      {"d":"19/10/15","s":"mid","p":78.1},{"d":"19/10/18","s":"mid","p":75.5},{"d":"19/10/23","s":"mid","p":73.2},
      {"d":"19/10/28","s":"mid","p":68.9},{"d":"19/11/05","s":"mid","p":67.8},{"d":"19/11/13","s":"mid","p":68.3},
      {"d":"19/11/21","s":"mid","p":69.3},{"d":"19/11/26","s":"mid","p":70.1},{"d":"19/12/03","s":"mid","p":71.5},
      {"d":"19/12/09","s":"mid","p":70.5},{"d":"19/12/13","s":"mid","p":69.6},{"d":"19/12/23","s":"mid","p":68.5},
      {"d":"20/01/07","s":"mid","p":68.0},{"d":"20/01/15","s":"mid","p":68.9},{"d":"20/01/24","s":"mid","p":70.1},
      {"d":"20/02/03","s":"mid","p":72.2},{"d":"20/02/11","s":"mid","p":77.5},{"d":"20/02/21","s":"mid","p":86.1},
      {"d":"20/03/03","s":"mid","p":95.0},{"d":"20/03/13","s":"mid","p":104.7},{"d":"20/03/24","s":"mid","p":113.7},
      {"d":"20/04/02","s":"mid","p":126.0},{"d":"20/04/13","s":"mid","p":128.7},{"d":"20/04/22","s":"mid","p":137.5},
      {"d":"20/04/29","s":"mid","p":141.4},{"d":"20/05/08","s":"mid","p":149.5},{"d":"20/05/18","s":"mid","p":153.8},
      {"d":"20/05/26","s":"mid","p":159.3},{"d":"20/06/04","s":"mid","p":174.4},{"d":"20/06/12","s":"mid","p":189.6},
      {"d":"20/06/22","s":"mid","p":211.9},{"d":"20/06/30","s":"mid","p":230.7},{"d":"20/07/13","s":"mid","p":250.8},
      {"d":"20/07/17","s":"mid","p":255.0},{"d":"20/07/27","s":"mid","p":256.5},{"d":"20/08/04","s":"mid","p":257.5},
      {"d":"20/08/10","s":"mid","p":257.0},{"d":"20/08/17","s":"mid","p":256.0},

      {"d":"19/07/18","s":"slow","p":87.6},{"d":"19/08/01","s":"slow","p":90.8},{"d":"19/08/19","s":"slow","p":92.4},
      {"d":"19/09/06","s":"slow","p":92.5},{"d":"19/09/20","s":"slow","p":90.5},{"d":"19/10/01","s":"slow","p":88.9},
      {"d":"19/10/10","s":"slow","p":85.6},{"d":"19/10/17","s":"slow","p":84.0},{"d":"19/10/23","s":"slow","p":81.6},
      {"d":"19/11/05","s":"slow","p":79.2},{"d":"19/11/18","s":"slow","p":72.3},{"d":"19/11/26","s":"slow","p":71.5},
      {"d":"19/12/10","s":"slow","p":70.1},{"d":"19/12/18","s":"slow","p":68.8},{"d":"20/01/02","s":"slow","p":67.8},
      {"d":"20/01/14","s":"slow","p":67.8},{"d":"20/01/24","s":"slow","p":69.9},{"d":"20/02/07","s":"slow","p":71.6},
      {"d":"20/02/19","s":"slow","p":75.0},{"d":"20/02/28","s":"slow","p":79.5},{"d":"20/03/11","s":"slow","p":86.1},
      {"d":"20/03/30","s":"slow","p":98.3},{"d":"20/04/09","s":"slow","p":110.0},{"d":"20/04/14","s":"slow","p":114.3},
      {"d":"20/04/27","s":"slow","p":126.5},{"d":"20/05/01","s":"slow","p":131.9},{"d":"20/05/18","s":"slow","p":141.4},
      {"d":"20/05/28","s":"slow","p":148.5},{"d":"20/06/12","s":"slow","p":162.6},{"d":"20/06/25","s":"slow","p":184.3},
      {"d":"20/07/09","s":"slow","p":202.0},{"d":"20/07/14","s":"slow","p":211.9},{"d":"20/07/21","s":"slow","p":220.0},
      {"d":"20/07/31","s":"slow","p":234.0},{"d":"20/08/10","s":"slow","p":248.0},{"d":"20/08/17","s":"slow","p":255.0},

      {"d":"19/09/17","s":"long","p":88.0},{"d":"19/10/02","s":"long","p":88.3},{"d":"19/10/18","s":"long","p":87.4},
      {"d":"19/11/05","s":"long","p":85.7},{"d":"19/11/21","s":"long","p":82.2},{"d":"19/12/10","s":"long","p":78.3},
      {"d":"19/12/27","s":"long","p":76.1},{"d":"20/01/15","s":"long","p":73.3},{"d":"20/01/29","s":"long","p":71.8},
      {"d":"20/02/07","s":"long","p":71.5},{"d":"20/02/19","s":"long","p":72.2},{"d":"20/02/27","s":"long","p":74.1},
      {"d":"20/03/06","s":"long","p":76.0},{"d":"20/03/18","s":"long","p":80.0},{"d":"20/03/30","s":"long","p":86.1},
      {"d":"20/04/14","s":"long","p":91.7},{"d":"20/04/30","s":"long","p":105.5},{"d":"20/05/18","s":"long","p":114.7},
      {"d":"20/05/28","s":"long","p":120.4},{"d":"20/06/12","s":"long","p":134.7},{"d":"20/06/22","s":"long","p":145.4},
      {"d":"20/07/09","s":"long","p":167.2},{"d":"20/07/27","s":"long","p":187.0},{"d":"20/08/17","s":"long","p":203.0},

      {"d":"19/10/23","s":"vwapoct","p":61.0},{"d":"19/10/24","s":"vwapoct","p":62.5},{"d":"19/10/28","s":"vwapoct","p":64.0},
      {"d":"19/10/31","s":"vwapoct","p":66.6},{"d":"19/11/06","s":"vwapoct","p":67.6},{"d":"19/11/13","s":"vwapoct","p":68.3},
      {"d":"19/11/21","s":"vwapoct","p":68.9},{"d":"19/11/29","s":"vwapoct","p":69.3},{"d":"19/12/05","s":"vwapoct","p":69.4},
      {"d":"19/12/09","s":"vwapoct","p":68.2},{"d":"19/12/13","s":"vwapoct","p":67.8},{"d":"19/12/23","s":"vwapoct","p":67.8},
      {"d":"20/01/07","s":"vwapoct","p":67.8},{"d":"20/01/15","s":"vwapoct","p":68.7},{"d":"20/01/24","s":"vwapoct","p":69.2},
      {"d":"20/01/31","s":"vwapoct","p":69.4},{"d":"20/02/04","s":"vwapoct","p":71.5},{"d":"20/02/07","s":"vwapoct","p":71.9},
      {"d":"20/02/12","s":"vwapoct","p":73.5},{"d":"20/02/19","s":"vwapoct","p":77.0},{"d":"20/02/25","s":"vwapoct","p":81.0},
      {"d":"20/03/02","s":"vwapoct","p":84.0},{"d":"20/03/05","s":"vwapoct","p":86.1},{"d":"20/03/11","s":"vwapoct","p":92.9},
      {"d":"20/03/17","s":"vwapoct","p":97.1},{"d":"20/03/24","s":"vwapoct","p":99.9},{"d":"20/03/27","s":"vwapoct","p":103.3},
      {"d":"20/04/02","s":"vwapoct","p":107.0},{"d":"20/04/13","s":"vwapoct","p":109.4},{"d":"20/04/22","s":"vwapoct","p":112.7},
      {"d":"20/04/24","s":"vwapoct","p":116.3},{"d":"20/05/05","s":"vwapoct","p":119.2},{"d":"20/05/18","s":"vwapoct","p":121.7},
      {"d":"20/05/28","s":"vwapoct","p":123.8},{"d":"20/06/03","s":"vwapoct","p":131.0},{"d":"20/06/09","s":"vwapoct","p":134.2},
      {"d":"20/06/22","s":"vwapoct","p":141.9},{"d":"20/06/30","s":"vwapoct","p":146.0},{"d":"20/07/17","s":"vwapoct","p":152.7},
      {"d":"20/08/04","s":"vwapoct","p":156.5},{"d":"20/08/17","s":"vwapoct","p":158.3},

      {"d":"19/07/18","s":"base","p":84.5},{"d":"19/08/01","s":"base","p":86.0},{"d":"19/08/19","s":"base","p":87.0},
      {"d":"19/09/06","s":"base","p":87.3},{"d":"19/09/24","s":"base","p":86.8},{"d":"19/10/10","s":"base","p":85.6},
      {"d":"19/10/23","s":"base","p":84.5},{"d":"19/11/05","s":"base","p":84.1},{"d":"19/11/21","s":"base","p":82.6},
      {"d":"19/12/10","s":"base","p":81.1},{"d":"19/12/27","s":"base","p":80.0},{"d":"20/01/15","s":"base","p":79.5},
      {"d":"20/01/29","s":"base","p":79.2},{"d":"20/02/07","s":"base","p":79.5},{"d":"20/02/21","s":"base","p":80.3},
      {"d":"20/03/06","s":"base","p":82.0},{"d":"20/03/20","s":"base","p":84.0},{"d":"20/04/01","s":"base","p":86.1},
      {"d":"20/04/14","s":"base","p":87.9},{"d":"20/04/30","s":"base","p":90.7},{"d":"20/05/18","s":"base","p":94.3},
      {"d":"20/06/04","s":"base","p":99.7},{"d":"20/06/22","s":"base","p":108.4},{"d":"20/07/09","s":"base","p":117.9},
      {"d":"20/07/27","s":"base","p":128.2},{"d":"20/08/17","s":"base","p":143.3},

      {"d":"20/07/13","s":"vwapjul","p":260.6},{"d":"20/07/15","s":"vwapjul","p":257.5},{"d":"20/07/17","s":"vwapjul","p":255.4},
      {"d":"20/07/21","s":"vwapjul","p":257.5},{"d":"20/07/23","s":"vwapjul","p":259.0},{"d":"20/07/27","s":"vwapjul","p":258.0},
      {"d":"20/07/30","s":"vwapjul","p":256.6},{"d":"20/08/03","s":"vwapjul","p":257.2},{"d":"20/08/05","s":"vwapjul","p":257.7},
      {"d":"20/08/07","s":"vwapjul","p":256.5},{"d":"20/08/11","s":"vwapjul","p":254.4},{"d":"20/08/13","s":"vwapjul","p":254.8},
      {"d":"20/08/17","s":"vwapjul","p":255.4}
    ],
    "vma": [
      {"d":"19/07/18","v":1.5},{"d":"19/08/08","v":1.6},{"d":"19/08/29","v":1.5},{"d":"19/09/09","v":2.2},
      {"d":"19/09/20","v":2.6},{"d":"19/10/04","v":2.4},{"d":"19/10/15","v":2.8},{"d":"19/10/23","v":3.6},
      {"d":"19/11/06","v":3.5},{"d":"19/11/22","v":2.8},{"d":"19/12/09","v":3.2},{"d":"19/12/23","v":2.8},
      {"d":"20/01/08","v":2.4},{"d":"20/01/23","v":2.3},{"d":"20/02/04","v":2.8},{"d":"20/02/12","v":3.8},
      {"d":"20/02/19","v":5.3},{"d":"20/02/27","v":7.1},{"d":"20/03/06","v":9.7},{"d":"20/03/16","v":11.8},
      {"d":"20/03/24","v":14.8},{"d":"20/04/01","v":14.4},{"d":"20/04/07","v":15.9},{"d":"20/04/16","v":15.2},
      {"d":"20/04/21","v":14.1},{"d":"20/04/24","v":16.4},{"d":"20/04/29","v":17.0},{"d":"20/05/06","v":13.8},
      {"d":"20/05/13","v":12.5},{"d":"20/05/19","v":11.8},{"d":"20/05/27","v":8.0},{"d":"20/06/02","v":11.2},
      {"d":"20/06/08","v":12.3},{"d":"20/06/16","v":12.6},{"d":"20/06/24","v":14.1},{"d":"20/06/30","v":10.5},
      {"d":"20/07/13","v":8.3},{"d":"20/07/24","v":6.1},{"d":"20/08/06","v":5.0},{"d":"20/08/17","v":4.9}
    ],
    "osc": [
      {"d":"19/07/18","s":"rs","v":70.8},{"d":"19/07/19","s":"rs","v":69.7},{"d":"19/07/22","s":"rs","v":70.8},
      {"d":"19/07/23","s":"rs","v":73.0},{"d":"19/07/24","s":"rs","v":71.9},{"d":"19/07/25","s":"rs","v":73.0},
      {"d":"19/07/29","s":"rs","v":73.0},{"d":"19/07/30","s":"rs","v":71.9},{"d":"19/07/31","s":"rs","v":70.3},
      {"d":"19/08/01","s":"rs","v":66.4},{"d":"19/08/02","s":"rs","v":59.3},{"d":"19/08/05","s":"rs","v":61.9},
      {"d":"19/08/06","s":"rs","v":61.9},{"d":"19/08/07","s":"rs","v":65.2},{"d":"19/08/08","s":"rs","v":63.0},
      {"d":"19/08/09","s":"rs","v":65.2},{"d":"19/08/12","s":"rs","v":61.9},{"d":"19/08/13","s":"rs","v":65.2},
      {"d":"19/08/14","s":"rs","v":59.1},{"d":"19/08/15","s":"rs","v":61.9},{"d":"19/08/16","s":"rs","v":64.2},
      {"d":"19/08/19","s":"rs","v":63.0},{"d":"19/08/20","s":"rs","v":65.2},{"d":"19/08/21","s":"rs","v":65.2},
      {"d":"19/08/22","s":"rs","v":59.7},{"d":"19/08/23","s":"rs","v":61.9},{"d":"19/08/26","s":"rs","v":61.9},
      {"d":"19/08/27","s":"rs","v":64.2},{"d":"19/08/28","s":"rs","v":65.2},{"d":"19/08/29","s":"rs","v":64.2},
      {"d":"19/08/30","s":"rs","v":66.4},{"d":"19/09/03","s":"rs","v":70.3},{"d":"19/09/05","s":"rs","v":70.3},
      {"d":"19/09/09","s":"rs","v":71.9},{"d":"19/09/10","s":"rs","v":72.5},{"d":"19/09/12","s":"rs","v":71.9},
      {"d":"19/09/13","s":"rs","v":72.5},{"d":"19/09/16","s":"rs","v":71.9},{"d":"19/09/17","s":"rs","v":70.8},
      {"d":"19/09/19","s":"rs","v":69.0},{"d":"19/09/20","s":"rs","v":70.8},{"d":"19/09/23","s":"rs","v":70.3},
      {"d":"19/09/24","s":"rs","v":68.5},{"d":"19/09/25","s":"rs","v":67.5},{"d":"19/09/27","s":"rs","v":62.4},
      {"d":"19/09/30","s":"rs","v":64.6},{"d":"19/10/01","s":"rs","v":66.8},{"d":"19/10/02","s":"rs","v":65.2},
      {"d":"19/10/03","s":"rs","v":63.0},{"d":"19/10/04","s":"rs","v":65.2},{"d":"19/10/07","s":"rs","v":67.5},
      {"d":"19/10/09","s":"rs","v":70.8},{"d":"19/10/11","s":"rs","v":70.8},{"d":"19/10/15","s":"rs","v":71.5},
      {"d":"19/10/17","s":"rs","v":71.9},{"d":"19/10/18","s":"rs","v":73.5},{"d":"19/10/22","s":"rs","v":74.5},
      {"d":"19/10/24","s":"rs","v":75.2},{"d":"19/10/28","s":"rs","v":77.8},{"d":"19/10/30","s":"rs","v":77.4},
      {"d":"19/11/01","s":"rs","v":78.5},{"d":"19/11/05","s":"rs","v":78.5},{"d":"19/11/08","s":"rs","v":80.8},
      {"d":"19/11/12","s":"rs","v":80.8},{"d":"19/11/15","s":"rs","v":81.8},{"d":"19/11/18","s":"rs","v":82.9},
      {"d":"19/11/29","s":"rs","v":84.1},{"d":"19/12/02","s":"rs","v":81.8},{"d":"19/12/04","s":"rs","v":79.6},
      {"d":"19/12/06","s":"rs","v":81.2},{"d":"19/12/09","s":"rs","v":82.9},{"d":"19/12/11","s":"rs","v":82.3},
      {"d":"19/12/13","s":"rs","v":84.1},{"d":"19/12/16","s":"rs","v":85.1},{"d":"19/12/19","s":"rs","v":85.8},
      {"d":"19/12/20","s":"rs","v":86.7},{"d":"19/12/24","s":"rs","v":87.4},{"d":"19/12/30","s":"rs","v":88.5},
      {"d":"19/12/31","s":"rs","v":87.8},{"d":"20/01/03","s":"rs","v":89.6},{"d":"20/01/07","s":"rs","v":88.9},
      {"d":"20/01/09","s":"rs","v":88.9},{"d":"20/01/13","s":"rs","v":90.7},{"d":"20/01/14","s":"rs","v":91.8},
      {"d":"20/01/16","s":"rs","v":92.4},{"d":"20/01/21","s":"rs","v":95.1},{"d":"20/01/23","s":"rs","v":95.6},
      {"d":"20/01/27","s":"rs","v":95.6},{"d":"20/01/28","s":"rs","v":89.6},{"d":"20/01/30","s":"rs","v":92.4},
      {"d":"20/01/31","s":"rs","v":92.9},{"d":"20/02/04","s":"rs","v":88.5},{"d":"20/02/06","s":"rs","v":95.1},
      {"d":"20/02/10","s":"rs","v":96.9},{"d":"20/02/12","s":"rs","v":95.6},{"d":"20/02/13","s":"rs","v":98.4},
      {"d":"20/02/18","s":"rs","v":99.1},{"d":"20/02/20","s":"rs","v":99.1},{"d":"20/02/21","s":"rs","v":100.0},
      {"d":"20/02/24","s":"rs","v":99.5},{"d":"20/02/26","s":"rs","v":90.7},{"d":"20/02/27","s":"rs","v":81.8},
      {"d":"20/02/28","s":"rs","v":80.8},{"d":"20/03/02","s":"rs","v":69.7},{"d":"20/03/03","s":"rs","v":69.0},
      {"d":"20/03/04","s":"rs","v":78.5},{"d":"20/03/05","s":"rs","v":72.5},{"d":"20/03/06","s":"rs","v":81.8},
      {"d":"20/03/09","s":"rs","v":73.0},{"d":"20/03/10","s":"rs","v":69.7},{"d":"20/03/11","s":"rs","v":52.0},
      {"d":"20/03/12","s":"rs","v":61.9},{"d":"20/03/13","s":"rs","v":53.1},{"d":"20/03/16","s":"rs","v":27.7},
      {"d":"20/03/17","s":"rs","v":46.4},{"d":"20/03/18","s":"rs","v":19.9},{"d":"20/03/19","s":"rs","v":29.9},
      {"d":"20/03/20","s":"rs","v":19.9},{"d":"20/03/23","s":"rs","v":18.8},{"d":"20/03/24","s":"rs","v":11.1},
      {"d":"20/03/25","s":"rs","v":2.7},{"d":"20/03/26","s":"rs","v":23.2},{"d":"20/03/27","s":"rs","v":25.4},
      {"d":"20/03/30","s":"rs","v":39.8},{"d":"20/03/31","s":"rs","v":33.2},{"d":"20/04/01","s":"rs","v":39.8},
      {"d":"20/04/02","s":"rs","v":36.5},{"d":"20/04/03","s":"rs","v":26.5},{"d":"20/04/06","s":"rs","v":29.9},
      {"d":"20/04/07","s":"rs","v":26.5},{"d":"20/04/08","s":"rs","v":42.0},{"d":"20/04/09","s":"rs","v":43.1},
      {"d":"20/04/14","s":"rs","v":53.1},{"d":"20/04/15","s":"rs","v":52.0},{"d":"20/04/16","s":"rs","v":54.2},
      {"d":"20/04/21","s":"rs","v":60.8},{"d":"20/04/23","s":"rs","v":49.8},{"d":"20/04/27","s":"rs","v":55.3},
      {"d":"20/04/29","s":"rs","v":60.8},{"d":"20/05/01","s":"rs","v":66.4},{"d":"20/05/05","s":"rs","v":58.6},
      {"d":"20/05/07","s":"rs","v":59.7},{"d":"20/05/11","s":"rs","v":58.6},{"d":"20/05/13","s":"rs","v":60.8},
      {"d":"20/05/15","s":"rs","v":57.5},{"d":"20/05/18","s":"rs","v":61.9},{"d":"20/05/20","s":"rs","v":67.5},
      {"d":"20/05/21","s":"rs","v":63.0},{"d":"20/05/26","s":"rs","v":68.5},{"d":"20/05/28","s":"rs","v":75.2},
      {"d":"20/06/01","s":"rs","v":77.4},{"d":"20/06/03","s":"rs","v":76.3},{"d":"20/06/04","s":"rs","v":81.8},
      {"d":"20/06/09","s":"rs","v":89.6},{"d":"20/06/11","s":"rs","v":86.3},{"d":"20/06/12","s":"rs","v":73.0},
      {"d":"20/06/16","s":"rs","v":78.5},{"d":"20/06/18","s":"rs","v":81.4},{"d":"20/06/22","s":"rs","v":80.1},
      {"d":"20/06/24","s":"rs","v":80.8},{"d":"20/06/25","s":"rs","v":76.3},{"d":"20/06/29","s":"rs","v":71.9},
      {"d":"20/07/01","s":"rs","v":77.4},{"d":"20/07/06","s":"rs","v":82.9},{"d":"20/07/07","s":"rs","v":84.1},
      {"d":"20/07/09","s":"rs","v":81.8},{"d":"20/07/13","s":"rs","v":85.1},{"d":"20/07/15","s":"rs","v":87.4},
      {"d":"20/07/20","s":"rs","v":89.6},{"d":"20/07/22","s":"rs","v":90.7},{"d":"20/07/24","s":"rs","v":88.5},
      {"d":"20/07/29","s":"rs","v":89.6},{"d":"20/07/31","s":"rs","v":90.7},{"d":"20/08/05","s":"rs","v":94.0},
      {"d":"20/08/07","s":"rs","v":96.9},{"d":"20/08/11","s":"rs","v":97.3},{"d":"20/08/12","s":"rs","v":96.2},
      {"d":"20/08/13","s":"rs","v":99.5},{"d":"20/08/17","s":"rs","v":100.0},

      {"d":"19/07/18","s":"avg","v":70.8},{"d":"19/08/01","s":"avg","v":68.5},{"d":"19/08/13","s":"avg","v":63.0},
      {"d":"19/08/21","s":"avg","v":61.9},{"d":"19/08/29","s":"avg","v":64.2},{"d":"19/09/11","s":"avg","v":70.8},
      {"d":"19/09/19","s":"avg","v":71.9},{"d":"19/09/27","s":"avg","v":69.7},{"d":"19/10/03","s":"avg","v":66.4},
      {"d":"19/10/10","s":"avg","v":66.8},{"d":"19/10/18","s":"avg","v":70.8},{"d":"19/10/28","s":"avg","v":73.0},
      {"d":"19/11/05","s":"avg","v":76.3},{"d":"19/11/18","s":"avg","v":80.8},{"d":"19/11/29","s":"avg","v":81.8},
      {"d":"19/12/09","s":"avg","v":82.3},{"d":"19/12/17","s":"avg","v":84.1},{"d":"19/12/26","s":"avg","v":85.8},
      {"d":"20/01/06","s":"avg","v":87.4},{"d":"20/01/14","s":"avg","v":90.7},{"d":"20/01/23","s":"avg","v":91.8},
      {"d":"20/01/31","s":"avg","v":92.4},{"d":"20/02/10","s":"avg","v":94.0},{"d":"20/02/19","s":"avg","v":97.3},
      {"d":"20/02/24","s":"avg","v":99.1},{"d":"20/02/27","s":"avg","v":96.2},{"d":"20/03/06","s":"avg","v":82.9},
      {"d":"20/03/16","s":"avg","v":64.2},{"d":"20/03/25","s":"avg","v":26.5},{"d":"20/03/27","s":"avg","v":23.2},
      {"d":"20/04/03","s":"avg","v":25.4},{"d":"20/04/09","s":"avg","v":36.0},{"d":"20/04/20","s":"avg","v":46.4},
      {"d":"20/04/28","s":"avg","v":56.4},{"d":"20/05/06","s":"avg","v":60.8},{"d":"20/05/19","s":"avg","v":63.0},
      {"d":"20/05/26","s":"avg","v":66.4},{"d":"20/06/02","s":"avg","v":73.0},{"d":"20/06/10","s":"avg","v":75.0},
      {"d":"20/06/22","s":"avg","v":77.5},{"d":"20/07/09","s":"avg","v":78.5},{"d":"20/07/15","s":"avg","v":84.0},
      {"d":"20/07/23","s":"avg","v":88.5},{"d":"20/08/04","s":"avg","v":93.0},{"d":"20/08/17","s":"avg","v":98.4}
    ],
    "hl": [
      {"d":"19/07/26","k":"hi","p":104.49,"t":"26/Jul\n104.49"},
      {"d":"19/07/29","k":"lo","p":92.10,"t":"29/Jul\n92.10"},
      {"d":"19/08/05","k":"lo","p":87.29,"t":"05/Aug\n87.29"},
      {"d":"19/08/28","k":"lo","p":88.71,"t":"28/Aug\n88.71"},
      {"d":"19/09/06","k":"hi","p":96.50,"t":"06/Sep\n96.50"},
      {"d":"19/09/10","k":"lo","p":76.81,"t":"10/Sep\n76.81"},
      {"d":"19/10/23","k":"lo","p":60.45,"t":"23/Oct\n60.45"},
      {"d":"19/11/05","k":"hi","p":70.85,"t":"05/Nov\n70.85"},
      {"d":"19/11/27","k":"hi","p":75.84,"t":"27/Nov\n75.84"},
      {"d":"19/12/13","k":"lo","p":62.02,"t":"13/Dec\n62.02"},
      {"d":"19/12/20","k":"hi","p":68.48,"t":"20/Dec\n68.48"},
      {"d":"20/01/16","k":"hi","p":78.79,"t":"16/Jan\n78.79"},
      {"d":"20/01/28","k":"lo","p":70.26,"t":"28/Jan\n70.26"},
      {"d":"20/02/04","k":"hi","p":93.30,"t":"04/Feb\n93.30"},
      {"d":"20/03/05","k":"hi","p":129.83,"t":"05/Mar\n129.83"},
      {"d":"20/03/23","k":"hi","p":164.94,"t":"23/Mar\n164.94"},
      {"d":"20/04/06","k":"lo","p":108.53,"t":"06/Apr\n108.53"},
      {"d":"20/04/24","k":"hi","p":181.50,"t":"24/Apr\n181.50"},
      {"d":"20/05/01","k":"lo","p":132.67,"t":"01/May\n132.67"},
      {"d":"20/05/21","k":"hi","p":177.80,"t":"21/May\n177.80"},
      {"d":"20/05/27","k":"lo","p":149.16,"t":"27/May\n149.16"},
      {"d":"20/06/03","k":"hi","p":224.46,"t":"03/Jun\n224.46"},
      {"d":"20/07/13","k":"hi","p":281.00,"t":"13/Jul\n281.00"},
      {"d":"20/07/14","k":"lo","p":240.45,"t":"14/Jul\n240.45"},
      {"d":"20/07/24","k":"lo","p":237.20,"t":"24/Jul\n237.20"},
      {"d":"20/08/05","k":"hi","p":275.09,"t":"05/Aug\n275.09"},
      {"d":"20/08/11","k":"lo","p":230.00,"t":"11/Aug\n230.00"},
      {"d":"20/08/17","k":"hi","p":277.78,"t":"277.78"}
    ]
  },
  "layer": [
    {
      "data": {"values": [{}]},
      "mark": {"type": "rule", "color": "#9a9a9a", "strokeWidth": 1, "strokeDash": [4, 3]},
      "encoding": {
        "y": {"datum": 100, "type": "quantitative", "scale": {"domain": [-425.4, 106.17], "nice": false, "zero": false}, "axis": null}
      }
    },
    {
      "data": {"name": "osc"},
      "transform": [{"filter": "datum.s == 'avg'"}],
      "mark": {"type": "line", "color": "black", "strokeWidth": 1, "strokeDash": [4, 3], "interpolate": "monotone"},
      "encoding": {
        "x": {"field": "d", "type": "ordinal", "title": null, "scale": {"type": "band", "paddingInner": 0, "paddingOuter": 0}},
        "y": {"field": "v", "type": "quantitative", "scale": {"domain": [-425.4, 106.17], "nice": false, "zero": false}, "axis": null}
      }
    },
    {
      "data": {"name": "osc"},
      "transform": [{"filter": "datum.s == 'rs'"}],
      "mark": {"type": "line", "color": "black", "strokeWidth": 1},
      "encoding": {
        "x": {"field": "d", "type": "ordinal", "title": null, "scale": {"type": "band", "paddingInner": 0, "paddingOuter": 0}},
        "y": {"field": "v", "type": "quantitative", "scale": {"domain": [-425.4, 106.17], "nice": false, "zero": false}, "axis": null}
      }
    },
    {
      "data": {"name": "px"},
      "mark": {"type": "bar", "width": {"band": 0.8}, "stroke": "black", "strokeWidth": 0.7},
      "encoding": {
        "x": {"field": "d", "type": "ordinal", "title": null, "scale": {"type": "band", "paddingInner": 0, "paddingOuter": 0}},
        "y": {
          "field": "v", "type": "quantitative",
          "scale": {"domain": [0.51, 351.06], "nice": false, "zero": false},
          "axis": {"values": [0.51, 20.51, 40.51], "format": ".2f", "orient": "left", "title": null, "domain": false, "ticks": false, "grid": false, "labelPadding": 10, "labelFontSize": 10, "labelColor": "#555555"}
        },
        "y2": {"datum": 0.51},
        "fill": {"condition": {"test": "datum.c >= datum.o", "value": "white"}, "value": "black"}
      }
    },
    {
      "data": {"name": "vma"},
      "mark": {"type": "line", "color": "black", "strokeWidth": 2.2, "interpolate": "monotone"},
      "encoding": {
        "x": {"field": "d", "type": "ordinal", "title": null, "scale": {"type": "band", "paddingInner": 0, "paddingOuter": 0}},
        "y": {"field": "v", "type": "quantitative", "scale": {"domain": [0.51, 351.06], "nice": false, "zero": false}, "axis": null}
      }
    },
    {
      "data": {"name": "ma"},
      "transform": [{"filter": "datum.s == 'long'"}],
      "mark": {"type": "line", "color": "#9a9a9a", "strokeWidth": 0.9, "strokeDash": [1, 1.6], "interpolate": "monotone"},
      "encoding": {
        "x": {"field": "d", "type": "ordinal", "title": null, "scale": {"type": "band", "paddingInner": 0, "paddingOuter": 0}},
        "y": {"field": "p", "type": "quantitative", "scale": {"type": "log", "domain": [57.7, 309.5], "nice": false}, "axis": null}
      }
    },
    {
      "data": {"name": "ma"},
      "transform": [{"filter": "datum.s == 'base'"}],
      "mark": {"type": "line", "color": "black", "strokeWidth": 2.8, "interpolate": "monotone"},
      "encoding": {
        "x": {"field": "d", "type": "ordinal", "title": null, "scale": {"type": "band", "paddingInner": 0, "paddingOuter": 0}},
        "y": {"field": "p", "type": "quantitative", "scale": {"type": "log", "domain": [57.7, 309.5], "nice": false}, "axis": null}
      }
    },
    {
      "data": {"name": "ma"},
      "transform": [{"filter": "datum.s == 'vwapoct'"}],
      "mark": {"type": "line", "color": "#5286b6", "strokeWidth": 2.2, "interpolate": "monotone"},
      "encoding": {
        "x": {"field": "d", "type": "ordinal", "title": null, "scale": {"type": "band", "paddingInner": 0, "paddingOuter": 0}},
        "y": {"field": "p", "type": "quantitative", "scale": {"type": "log", "domain": [57.7, 309.5], "nice": false}, "axis": null}
      }
    },
    {
      "data": {"name": "ma"},
      "transform": [{"filter": "datum.s == 'slow'"}],
      "mark": {"type": "line", "color": "black", "strokeWidth": 1.1, "strokeDash": [9, 4, 2, 4], "interpolate": "monotone"},
      "encoding": {
        "x": {"field": "d", "type": "ordinal", "title": null, "scale": {"type": "band", "paddingInner": 0, "paddingOuter": 0}},
        "y": {"field": "p", "type": "quantitative", "scale": {"type": "log", "domain": [57.7, 309.5], "nice": false}, "axis": null}
      }
    },
    {
      "data": {"name": "ma"},
      "transform": [{"filter": "datum.s == 'mid'"}],
      "mark": {"type": "line", "color": "black", "strokeWidth": 1.1, "strokeDash": [6, 4]},
      "encoding": {
        "x": {"field": "d", "type": "ordinal", "title": null, "scale": {"type": "band", "paddingInner": 0, "paddingOuter": 0}},
        "y": {"field": "p", "type": "quantitative", "scale": {"type": "log", "domain": [57.7, 309.5], "nice": false}, "axis": null}
      }
    },
    {
      "data": {"name": "ma"},
      "transform": [{"filter": "datum.s == 'fast'"}],
      "mark": {"type": "line", "color": "black", "strokeWidth": 1, "strokeDash": [1.5, 2]},
      "encoding": {
        "x": {"field": "d", "type": "ordinal", "title": null, "scale": {"type": "band", "paddingInner": 0, "paddingOuter": 0}},
        "y": {"field": "p", "type": "quantitative", "scale": {"type": "log", "domain": [57.7, 309.5], "nice": false}, "axis": null}
      }
    },
    {
      "data": {"name": "ma"},
      "transform": [{"filter": "datum.s == 'vwapjul'"}],
      "mark": {"type": "line", "color": "#c0392b", "strokeWidth": 1.6, "interpolate": "monotone"},
      "encoding": {
        "x": {"field": "d", "type": "ordinal", "title": null, "scale": {"type": "band", "paddingInner": 0, "paddingOuter": 0}},
        "y": {"field": "p", "type": "quantitative", "scale": {"type": "log", "domain": [57.7, 309.5], "nice": false}, "axis": null}
      }
    },
    {
      "data": {"values": [{}]},
      "mark": {"type": "rule", "color": "black", "strokeWidth": 1.2},
      "encoding": {
        "x": {"datum": "19/07/18", "type": "ordinal", "title": null, "scale": {"type": "band", "paddingInner": 0, "paddingOuter": 0}},
        "x2": {"datum": "20/02/04"},
        "y": {"datum": 276.8, "type": "quantitative", "scale": {"type": "log", "domain": [57.7, 309.5], "nice": false}, "axis": null}
      }
    },
    {
      "data": {"values": [{}]},
      "mark": {"type": "rule", "color": "black", "strokeWidth": 1.2},
      "encoding": {
        "x": {"datum": "20/02/19", "type": "ordinal", "title": null, "scale": {"type": "band", "paddingInner": 0, "paddingOuter": 0}},
        "x2": {"datum": "20/08/17"},
        "y": {"datum": 276.8, "type": "quantitative", "scale": {"type": "log", "domain": [57.7, 309.5], "nice": false}, "axis": null}
      }
    },
    {
      "data": {"values": [{}]},
      "mark": {"type": "text", "text": "276.80", "fontSize": 14, "color": "black", "align": "center", "baseline": "middle"},
      "encoding": {
        "x": {"datum": "20/02/11", "type": "ordinal", "title": null, "scale": {"type": "band", "paddingInner": 0, "paddingOuter": 0}},
        "y": {"datum": 276.8, "type": "quantitative", "scale": {"type": "log", "domain": [57.7, 309.5], "nice": false}, "axis": null}
      }
    },
    {
      "data": {"name": "px"},
      "mark": {"type": "rule", "color": "black", "strokeWidth": 1},
      "encoding": {
        "x": {"field": "d", "type": "ordinal", "title": null, "scale": {"type": "band", "paddingInner": 0, "paddingOuter": 0}},
        "y": {"field": "l", "type": "quantitative", "scale": {"type": "log", "domain": [57.7, 309.5], "nice": false}, "axis": null},
        "y2": {"field": "h"}
      }
    },
    {
      "data": {"name": "px"},
      "mark": {"type": "bar", "width": {"band": 0.68}, "stroke": "black", "strokeWidth": 0.8},
      "encoding": {
        "x": {"field": "d", "type": "ordinal", "title": null, "scale": {"type": "band", "paddingInner": 0, "paddingOuter": 0}},
        "y": {"field": "o", "type": "quantitative", "scale": {"type": "log", "domain": [57.7, 309.5], "nice": false}, "axis": null},
        "y2": {"field": "c"},
        "fill": {"condition": {"test": "datum.c >= datum.o", "value": "white"}, "value": "black"}
      }
    },
    {
      "data": {"name": "hl"},
      "mark": {"type": "tick", "size": 10, "thickness": 2.5},
      "encoding": {
        "x": {"field": "d", "type": "ordinal", "title": null, "scale": {"type": "band", "paddingInner": 0, "paddingOuter": 0}},
        "y": {"field": "p", "type": "quantitative", "scale": {"type": "log", "domain": [57.7, 309.5], "nice": false}, "axis": null},
        "color": {"condition": {"test": "datum.k == 'hi'", "value": "#2b7fc0"}, "value": "#7a3d9e"}
      }
    },
    {
      "data": {"name": "hl"},
      "transform": [{"filter": "datum.k == 'hi'"}],
      "mark": {"type": "text", "fontSize": 9, "color": "#222222", "align": "center", "baseline": "bottom", "lineBreak": "\n", "lineHeight": 9.5, "dy": -6},
      "encoding": {
        "x": {"field": "d", "type": "ordinal", "title": null, "scale": {"type": "band", "paddingInner": 0, "paddingOuter": 0}},
        "y": {"field": "p", "type": "quantitative", "scale": {"type": "log", "domain": [57.7, 309.5], "nice": false}, "axis": null},
        "text": {"field": "t"}
      }
    },
    {
      "data": {"name": "hl"},
      "transform": [{"filter": "datum.k == 'lo'"}],
      "mark": {"type": "text", "fontSize": 9, "color": "#222222", "align": "center", "baseline": "top", "lineBreak": "\n", "lineHeight": 9.5, "dy": 10},
      "encoding": {
        "x": {"field": "d", "type": "ordinal", "title": null, "scale": {"type": "band", "paddingInner": 0, "paddingOuter": 0}},
        "y": {"field": "p", "type": "quantitative", "scale": {"type": "log", "domain": [57.7, 309.5], "nice": false}, "axis": null},
        "text": {"field": "t"}
      }
    },
    {
      "data": {"values": [{}]},
      "mark": {"type": "text", "text": "D", "fontSize": 68, "fontWeight": "bold", "color": "#c4c4c4", "align": "left", "baseline": "alphabetic", "dx": -14.7},
      "encoding": {
        "x": {"datum": "19/07/18", "type": "ordinal", "title": null, "scale": {"type": "band", "paddingInner": 0, "paddingOuter": 0}},
        "y": {"datum": 264.9, "type": "quantitative", "scale": {"type": "log", "domain": [57.7, 309.5], "nice": false}, "axis": null}
      }
    },
    {
      "data": {"values": [{}]},
      "mark": {"type": "text", "text": "ZM", "fontSize": 25, "fontWeight": "bold", "color": "black", "align": "left", "baseline": "alphabetic", "dx": 46.6},
      "encoding": {
        "x": {"datum": "19/07/18", "type": "ordinal", "title": null, "scale": {"type": "band", "paddingInner": 0, "paddingOuter": 0}},
        "y": {"datum": 282.8, "type": "quantitative", "scale": {"type": "log", "domain": [57.7, 309.5], "nice": false}, "axis": null}
      }
    }
  ],
  "resolve": {"scale": {"y": "independent"}}
}
